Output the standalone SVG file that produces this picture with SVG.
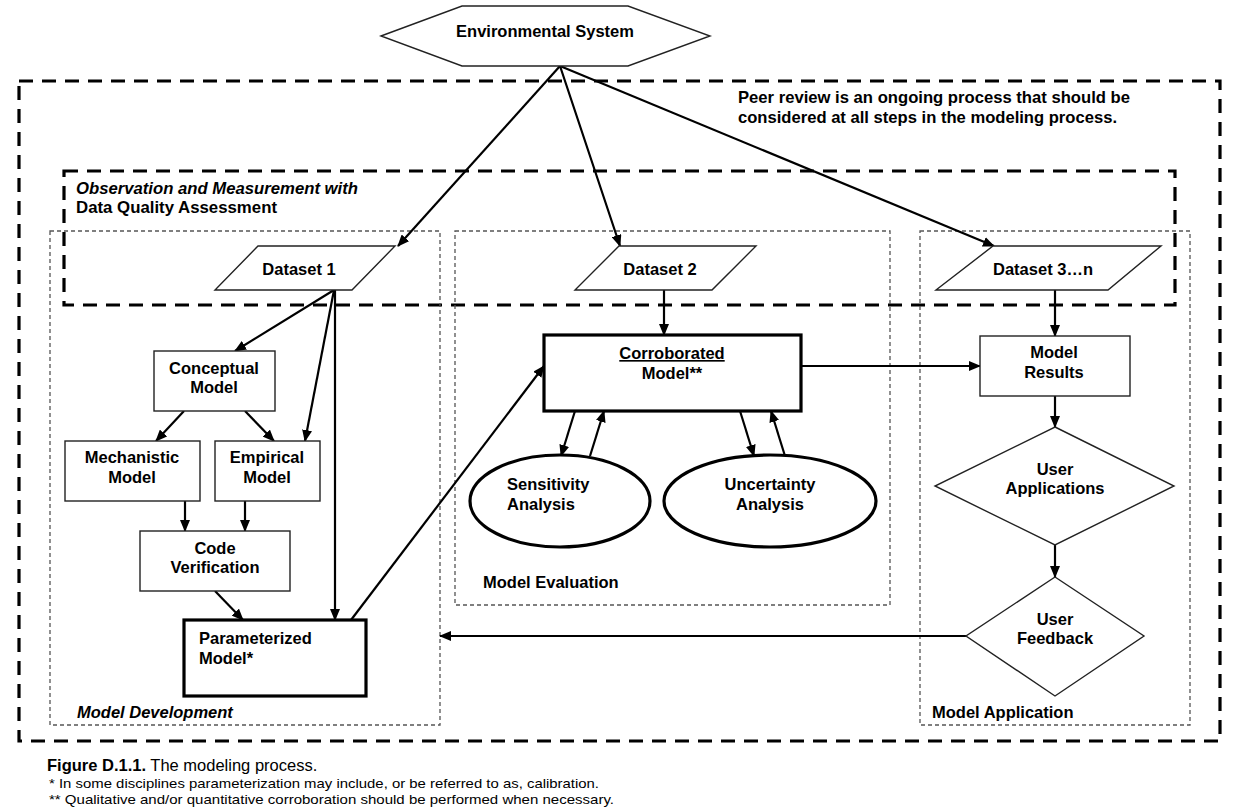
<svg xmlns="http://www.w3.org/2000/svg" width="1238" height="810" viewBox="0 0 1238 810">
<style>
text{font-family:"Liberation Sans",Arial,sans-serif;font-weight:bold;font-size:16.5px;fill:#000}
.c{text-anchor:middle}
.it{font-style:italic}
.node{fill:#fff;stroke:#222;stroke-width:1.4}
.thick{fill:#fff;stroke:#000;stroke-width:3.2}
.bigdash{fill:none;stroke:#000;stroke-width:3.2;stroke-dasharray:14 9}
.smalldash{fill:none;stroke:#555;stroke-width:1.3;stroke-dasharray:4 3}
.conn line{stroke:#000;stroke-width:2.2;marker-end:url(#ah)}
.cap{font-weight:normal}
</style>
<defs>
<marker id="ah" markerUnits="userSpaceOnUse" markerWidth="12" markerHeight="10" refX="11" refY="5" orient="auto">
<path d="M0,0 L12,5 L0,10 z" fill="#000"/>
</marker>
</defs>
<rect width="1238" height="810" fill="#fff"/>

<g id="boxes">
<rect id="peer-review-box" class="bigdash" x="19" y="81" width="1201" height="660"/>
<rect id="observation-box" class="bigdash" x="64" y="171" width="1111" height="134"/>
<rect id="model-development-box" class="smalldash" x="50" y="231" width="390" height="494"/>
<rect id="model-evaluation-box" class="smalldash" x="455" y="231" width="435" height="374"/>
<rect id="model-application-box" class="smalldash" x="920" y="231" width="270" height="494"/>
<text x="738" y="103" textLength="392" lengthAdjust="spacingAndGlyphs">Peer review is an ongoing process that should be</text>
<text x="738" y="123" textLength="379" lengthAdjust="spacingAndGlyphs">considered at all steps in the modeling process.</text>
<text class="it" x="76" y="194" textLength="282" lengthAdjust="spacingAndGlyphs">Observation and Measurement with</text>
<text x="76" y="213" textLength="201" lengthAdjust="spacingAndGlyphs">Data Quality Assessment</text>
<text class="it" x="77" y="718">Model Development</text>
<text x="483" y="588">Model Evaluation</text>
<text x="932" y="718">Model Application</text>
</g>

<g id="connectors" class="conn">
<line x1="560" y1="66" x2="398" y2="246"/>
<line x1="560" y1="66" x2="620" y2="246"/>
<line x1="560" y1="66" x2="994" y2="246"/>
<line x1="334" y1="290" x2="235" y2="351"/>
<line x1="334" y1="290" x2="305" y2="441"/>
<line x1="335" y1="290" x2="335" y2="620"/>
<line x1="184" y1="411" x2="156" y2="441"/>
<line x1="245" y1="411" x2="274" y2="441"/>
<line x1="185" y1="501" x2="185" y2="531"/>
<line x1="245" y1="501" x2="245" y2="531"/>
<line x1="215" y1="591" x2="243" y2="620"/>
<line x1="351" y1="620" x2="544" y2="366"/>
<line x1="664" y1="290" x2="664" y2="335"/>
<line x1="575" y1="411" x2="561" y2="456"/>
<line x1="590" y1="456" x2="604" y2="411"/>
<line x1="740" y1="411" x2="754" y2="456"/>
<line x1="785" y1="456" x2="771" y2="411"/>
<line x1="801" y1="366" x2="980" y2="366"/>
<line x1="1055" y1="290" x2="1055" y2="336"/>
<line x1="1055" y1="396" x2="1055" y2="427"/>
<line x1="1055" y1="545" x2="1055" y2="577"/>
<line x1="966" y1="636" x2="440" y2="636"/>
</g>

<g id="environmental-system">
<polygon class="node" points="381,36 462,6 628,6 710,36 628,66 462,66"/>
<text class="c" x="545" y="37">Environmental System</text>
</g>
<g id="dataset-1">
<polygon class="node" points="258,246 395,246 352,290 215,290"/>
<text class="c" x="299" y="275">Dataset 1</text>
</g>
<g id="dataset-2">
<polygon class="node" points="619,246 756,246 712,290 575,290"/>
<text class="c" x="660" y="275">Dataset 2</text>
</g>
<g id="dataset-3n">
<polygon class="node" points="993,246 1161,246 1108,290 936,290"/>
<text class="c" x="1043" y="275">Dataset 3…n</text>
</g>
<g id="conceptual-model">
<rect class="node" x="154" y="351" width="121" height="60"/>
<text class="c" x="214" y="374">Conceptual</text>
<text class="c" x="214" y="393">Model</text>
</g>
<g id="mechanistic-model">
<rect class="node" x="65" y="441" width="135" height="60"/>
<text class="c" x="132" y="463">Mechanistic</text>
<text class="c" x="132" y="483">Model</text>
</g>
<g id="empirical-model">
<rect class="node" x="215" y="441" width="105" height="60"/>
<text class="c" x="267" y="463">Empirical</text>
<text class="c" x="267" y="483">Model</text>
</g>
<g id="code-verification">
<rect class="node" x="140" y="531" width="150" height="60"/>
<text class="c" x="215" y="554">Code</text>
<text class="c" x="215" y="573">Verification</text>
</g>
<g id="parameterized-model">
<rect class="thick" x="184" y="620" width="182" height="76"/>
<text x="199" y="644">Parameterized</text>
<text x="199" y="664">Model*</text>
</g>
<g id="corroborated-model">
<rect class="thick" x="544" y="335" width="257" height="76"/>
<text class="c" x="672" y="359" text-decoration="underline">Corroborated</text>
<text class="c" x="672" y="379">Model**</text>
</g>
<g id="sensitivity-analysis">
<ellipse class="thick" cx="560" cy="501" rx="90" ry="46"/>
<text x="507" y="490">Sensitivity</text>
<text x="507" y="510">Analysis</text>
</g>
<g id="uncertainty-analysis">
<ellipse class="thick" cx="770" cy="501" rx="106" ry="46"/>
<text class="c" x="770" y="490">Uncertainty</text>
<text class="c" x="770" y="510">Analysis</text>
</g>
<g id="model-results">
<rect class="node" x="980" y="336" width="150" height="60"/>
<text class="c" x="1054" y="358">Model</text>
<text class="c" x="1054" y="378">Results</text>
</g>
<g id="user-applications">
<polygon class="node" points="1055,427 1174,486 1055,545 935,486"/>
<text class="c" x="1055" y="475">User</text>
<text class="c" x="1055" y="494">Applications</text>
</g>
<g id="user-feedback">
<polygon class="node" points="1055,577 1144,636 1055,696 966,636"/>
<text class="c" x="1055" y="625">User</text>
<text class="c" x="1055" y="644">Feedback</text>
</g>

<g id="caption">
<text x="47" y="771" style="font-size:16.5px">Figure D.1.1.<tspan class="cap"> The modeling process.</tspan></text>
<text class="cap" x="49" y="788" style="font-size:13.5px" textLength="550" lengthAdjust="spacingAndGlyphs">* In some disciplines parameterization may include, or be referred to as, calibration.</text>
<text class="cap" x="49" y="804" style="font-size:13.5px" textLength="565" lengthAdjust="spacingAndGlyphs">** Qualitative and/or quantitative corroboration should be performed when necessary.</text>
</g>
</svg>
